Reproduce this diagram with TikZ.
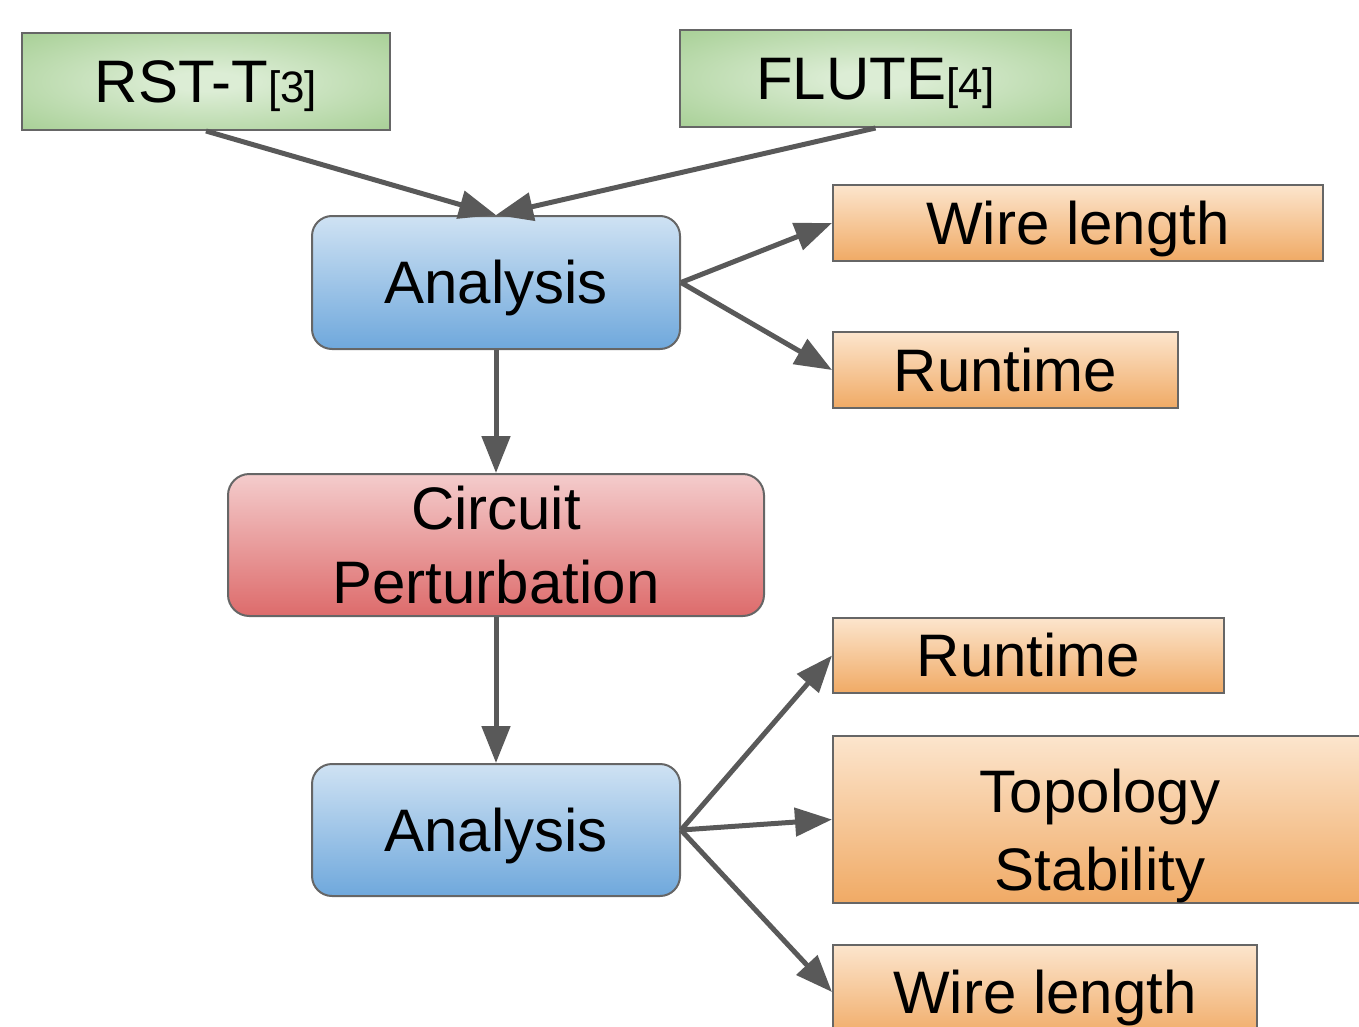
\documentclass[tikz,border=0pt]{standalone}
\usepackage{fontspec}
\setmainfont{Liberation Sans}
\usetikzlibrary{arrows.meta,shadings}
\definecolor{gin}{HTML}{DCEDD5}
\definecolor{gout}{HTML}{93C47D}
\definecolor{bluetop}{HTML}{CFE2F3}
\definecolor{bluebot}{HTML}{6FA8DC}
\definecolor{redtop}{HTML}{F4CCCC}
\definecolor{redbot}{HTML}{DD6B6B}
\definecolor{orgtop}{HTML}{FCE5CD}
\definecolor{orgbot}{HTML}{F0AA65}
\definecolor{edgegray}{HTML}{666666}
\definecolor{arrowgray}{HTML}{595959}
\pgfdeclareradialshading{greenrad}{\pgfpoint{0bp}{0bp}}{color(0bp)=(gin); color(5bp)=(gin); color(48bp)=(gout); color(80bp)=(gout)}
\begin{document}
\begin{tikzpicture}[x=0.75pt,y=-0.75pt,
  base/.style={draw=edgegray, line width=1.5pt, inner sep=0pt, align=center,
    font=\fontsize{45}{55}\selectfont},
  oneline/.style={text height=32.2pt, text depth=0pt},
  sz/.style 2 args={minimum width=#1*0.75pt, minimum height=#2*0.75pt},
  greenbox/.style={base, shading=greenrad},
  bluebox/.style={base, rounded corners=15pt, top color=bluetop, bottom color=bluebot, oneline},
  redbox/.style={base, rounded corners=16pt, top color=redtop, bottom color=redbot},
  orgbox/.style={base, top color=orgtop, bottom color=orgbot},
  conn/.style={draw=arrowgray, line width=3.75pt, -{Triangle[length=27.75pt,width=21pt]}}
]
\useasboundingbox (0,0) rectangle (1359,1027);
\clip (0,0) rectangle (1359,1027);

\node[greenbox, oneline, sz={368}{97}] (rst) at (206,81.5) {RST-T{\fontsize{33}{38}\selectfont[3]}};
\node[greenbox, oneline, sz={391}{97}] (flute) at (875.5,78.5) {FLUTE{\fontsize{33}{38}\selectfont[4]}};
\node[bluebox, sz={368}{133}] (an1) at (496,282.5) {Analysis};
\node[orgbox, oneline, sz={490}{76}] (wl1) at (1078,223) {Wire length};
\node[orgbox, oneline, sz={345}{76}] (rt1) at (1005.5,370) {Runtime};
\node[redbox, sz={536}{142}] (cp) at (496,545) {Circuit\\Perturbation};
\node[orgbox, oneline, sz={391}{75}] (rt2) at (1028.5,655.5) {Runtime};
\node[orgbox, sz={534}{167}, font=\fontsize{45}{58.5}\selectfont] (topo) at (1100,819.5) {\rule{0pt}{57pt}Topology\\Stability};
\node[bluebox, sz={368}{132}] (an2) at (496,830) {Analysis};
\node[orgbox, oneline, sz={424}{94}] (wl2) at (1045,992) {Wire length};

\draw[conn] (rst.south) -- (an1.north);
\draw[conn] (flute.south) -- (an1.north);
\draw[conn] (an1.east) -- (wl1.west);
\draw[conn] (an1.east) -- (rt1.west);
\draw[conn] (an1.south) -- (cp.north);
\draw[conn] (cp.south) -- (an2.north);
\draw[conn] (an2.east) -- (rt2.west);
\draw[conn] (an2.east) -- (topo.west);
\draw[conn] (an2.east) -- (wl2.west);
\end{tikzpicture}
\end{document}
